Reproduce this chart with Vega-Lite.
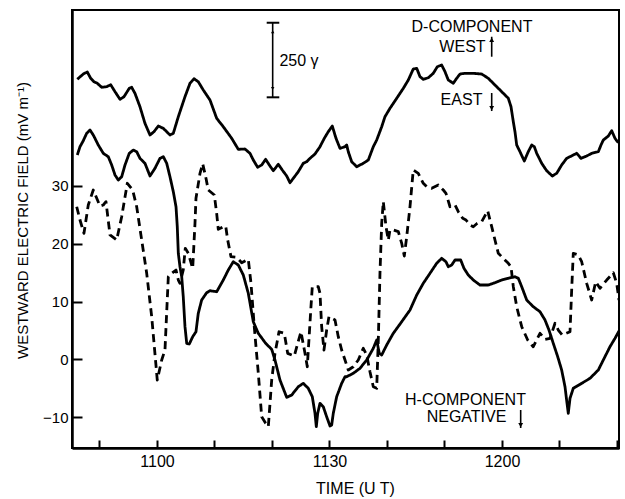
{
  "$schema": "https://vega.github.io/schema/vega-lite/v6.json",
  "width": 547,
  "height": 438,
  "autosize": "none",
  "padding": {"left": 72, "top": 10, "right": 6, "bottom": 51},
  "background": "white",
  "config": {
    "font": "Liberation Sans",
    "view": {"stroke": "black", "strokeWidth": 2},
    "axis": {
      "domainColor": "black", "domainWidth": 2.5, "tickColor": "black", "tickWidth": 2,
      "labelColor": "black", "labelFontSize": 15, "labelFont": "Liberation Sans",
      "titleColor": "black", "titleFontSize": 15, "titleFont": "Liberation Sans", "titleFontWeight": "normal",
      "grid": false
    }
  },
  "datasets": {
    "curves": [
      {"s":"D","t":46.14,"v":48.38},{"s":"D","t":47.18,"v":49.29},{"s":"D","t":47.88,"v":49.64},{"s":"D","t":48.47,"v":48.55},{"s":"D","t":49.04,"v":47.96},{"s":"D","t":49.62,"v":47.69},{"s":"D","t":50.38,"v":47.0},{"s":"D","t":51.25,"v":47.1},{"s":"D","t":51.95,"v":47.44},{"s":"D","t":52.7,"v":46.24},{"s":"D","t":53.57,"v":44.92},{"s":"D","t":54.26,"v":45.37},{"s":"D","t":55.18,"v":46.82},{"s":"D","t":55.6,"v":47.0},{"s":"D","t":56.17,"v":45.96},{"s":"D","t":57.04,"v":43.64},{"s":"D","t":57.91,"v":40.78},{"s":"D","t":58.78,"v":38.76},{"s":"D","t":59.48,"v":39.33},{"s":"D","t":60.23,"v":40.31},{"s":"D","t":61.1,"v":39.91},{"s":"D","t":62.26,"v":38.76},{"s":"D","t":62.84,"v":39.05},{"s":"D","t":63.71,"v":41.92},{"s":"D","t":64.87,"v":45.37},{"s":"D","t":65.74,"v":47.69},{"s":"D","t":66.44,"v":48.48},{"s":"D","t":67.18,"v":47.96},{"s":"D","t":68.05,"v":46.53},{"s":"D","t":69.22,"v":44.8},{"s":"D","t":70.38,"v":41.64},{"s":"D","t":71.53,"v":40.19},{"s":"D","t":72.99,"v":38.19},{"s":"D","t":74.14,"v":36.29},{"s":"D","t":75.3,"v":36.34},{"s":"D","t":76.17,"v":35.6},{"s":"D","t":76.75,"v":34.44},{"s":"D","t":77.51,"v":33.18},{"s":"D","t":78.21,"v":33.58},{"s":"D","t":78.9,"v":34.56},{"s":"D","t":79.65,"v":33.4},{"s":"D","t":80.23,"v":32.59},{"s":"D","t":81.1,"v":33.7},{"s":"D","t":81.79,"v":32.71},{"s":"D","t":82.56,"v":31.68},{"s":"D","t":83.13,"v":30.52},{"s":"D","t":83.71,"v":31.28},{"s":"D","t":84.57,"v":32.42},{"s":"D","t":85.44,"v":33.87},{"s":"D","t":86.04,"v":34.15},{"s":"D","t":86.61,"v":34.73},{"s":"D","t":87.48,"v":35.48},{"s":"D","t":88.35,"v":36.74},{"s":"D","t":89.1,"v":38.19},{"s":"D","t":89.79,"v":39.33},{"s":"D","t":90.49,"v":40.31},{"s":"D","t":91.13,"v":38.19},{"s":"D","t":91.83,"v":36.46},{"s":"D","t":92.7,"v":36.74},{"s":"D","t":92.99,"v":37.03},{"s":"D","t":93.27,"v":35.87},{"s":"D","t":93.86,"v":34.15},{"s":"D","t":94.73,"v":33.28},{"s":"D","t":95.88,"v":33.87},{"s":"D","t":96.75,"v":34.44},{"s":"D","t":97.62,"v":36.74},{"s":"D","t":98.21,"v":37.89},{"s":"D","t":99.08,"v":40.19},{"s":"D","t":99.65,"v":41.92},{"s":"D","t":100.52,"v":43.37},{"s":"D","t":101.69,"v":45.1},{"s":"D","t":102.84,"v":46.82},{"s":"D","t":103.71,"v":48.26},{"s":"D","t":104.57,"v":50.16},{"s":"D","t":105.17,"v":50.28},{"s":"D","t":105.74,"v":48.83},{"s":"D","t":106.31,"v":48.38},{"s":"D","t":107.18,"v":48.65},{"s":"D","t":108.05,"v":49.41},{"s":"D","t":108.75,"v":50.55},{"s":"D","t":109.51,"v":50.85},{"s":"D","t":110.09,"v":49.69},{"s":"D","t":110.66,"v":48.26},{"s":"D","t":111.53,"v":47.69},{"s":"D","t":112.12,"v":48.55},{"s":"D","t":112.7,"v":49.29},{"s":"D","t":113.57,"v":49.41},{"s":"D","t":115.01,"v":49.41},{"s":"D","t":116.47,"v":49.29},{"s":"D","t":117.62,"v":48.55},{"s":"D","t":118.78,"v":47.39},{"s":"D","t":119.95,"v":46.24},{"s":"D","t":121.1,"v":45.1},{"s":"D","t":121.57,"v":43.64},{"s":"D","t":121.97,"v":41.05},{"s":"D","t":122.26,"v":39.33},{"s":"D","t":122.56,"v":37.03},{"s":"D","t":123.13,"v":35.87},{"s":"D","t":123.88,"v":34.27},{"s":"D","t":124.57,"v":35.87},{"s":"D","t":125.17,"v":37.03},{"s":"D","t":125.62,"v":36.74},{"s":"D","t":126.04,"v":35.6},{"s":"D","t":126.91,"v":33.87},{"s":"D","t":127.77,"v":32.59},{"s":"D","t":128.75,"v":31.68},{"s":"D","t":129.51,"v":32.14},{"s":"D","t":130.38,"v":33.58},{"s":"D","t":131.25,"v":34.73},{"s":"D","t":132.4,"v":35.3},{"s":"D","t":132.99,"v":35.6},{"s":"D","t":133.74,"v":34.73},{"s":"D","t":134.73,"v":35.13},{"s":"D","t":135.6,"v":35.6},{"s":"D","t":136.75,"v":35.87},{"s":"D","t":137.22,"v":37.03},{"s":"D","t":137.62,"v":37.89},{"s":"D","t":138.49,"v":38.58},{"s":"D","t":139.08,"v":39.5},{"s":"D","t":139.65,"v":38.19},{"s":"D","t":140.23,"v":37.43},

      {"s":"H","t":46.14,"v":35.3},{"s":"H","t":46.61,"v":36.74},{"s":"H","t":47.18,"v":37.77},{"s":"H","t":47.77,"v":39.05},{"s":"H","t":48.35,"v":39.62},{"s":"H","t":48.92,"v":38.76},{"s":"H","t":49.79,"v":37.03},{"s":"H","t":50.66,"v":35.6},{"s":"H","t":51.53,"v":35.01},{"s":"H","t":52.12,"v":33.58},{"s":"H","t":52.7,"v":31.85},{"s":"H","t":53.27,"v":30.98},{"s":"H","t":53.86,"v":31.55},{"s":"H","t":54.44,"v":33.58},{"s":"H","t":55.18,"v":35.6},{"s":"H","t":55.88,"v":36.16},{"s":"H","t":56.47,"v":35.87},{"s":"H","t":57.04,"v":34.73},{"s":"H","t":57.91,"v":33.87},{"s":"H","t":58.78,"v":31.68},{"s":"H","t":59.65,"v":33.01},{"s":"H","t":60.52,"v":34.73},{"s":"H","t":61.1,"v":35.01},{"s":"H","t":61.69,"v":33.87},{"s":"H","t":62.26,"v":31.55},{"s":"H","t":62.84,"v":28.96},{"s":"H","t":63.31,"v":26.37},{"s":"H","t":63.53,"v":22.92},{"s":"H","t":63.71,"v":18.33},{"s":"H","t":64.0,"v":16.01},{"s":"H","t":64.3,"v":14.28},{"s":"H","t":64.57,"v":10.83},{"s":"H","t":64.87,"v":5.65},{"s":"H","t":65.17,"v":2.78},{"s":"H","t":65.62,"v":2.66},{"s":"H","t":66.21,"v":3.92},{"s":"H","t":66.78,"v":4.78},{"s":"H","t":67.18,"v":7.96},{"s":"H","t":67.77,"v":10.26},{"s":"H","t":68.64,"v":11.52},{"s":"H","t":69.22,"v":11.87},{"s":"H","t":70.38,"v":11.69},{"s":"H","t":71.53,"v":13.71},{"s":"H","t":72.4,"v":15.44},{"s":"H","t":73.27,"v":16.87},{"s":"H","t":74.14,"v":16.3},{"s":"H","t":75.01,"v":14.58},{"s":"H","t":75.88,"v":11.42},{"s":"H","t":76.75,"v":6.51},{"s":"H","t":77.62,"v":4.51},{"s":"H","t":78.9,"v":2.78},{"s":"H","t":79.95,"v":1.74},{"s":"H","t":80.52,"v":-0.1},{"s":"H","t":81.39,"v":-3.56},{"s":"H","t":82.56,"v":-6.55},{"s":"H","t":83.43,"v":-6.15},{"s":"H","t":84.57,"v":-4.72},{"s":"H","t":85.44,"v":-4.13},{"s":"H","t":86.31,"v":-4.99},{"s":"H","t":87.01,"v":-6.44},{"s":"H","t":87.48,"v":-9.31},{"s":"H","t":87.71,"v":-11.62},{"s":"H","t":87.95,"v":-9.31},{"s":"H","t":88.35,"v":-7.58},{"s":"H","t":88.92,"v":-8.17},{"s":"H","t":89.51,"v":-9.9},{"s":"H","t":90.09,"v":-11.5},{"s":"H","t":90.38,"v":-11.33},{"s":"H","t":90.66,"v":-9.31},{"s":"H","t":91.25,"v":-6.44},{"s":"H","t":92.12,"v":-4.13},{"s":"H","t":92.7,"v":-2.99},{"s":"H","t":92.99,"v":-2.99},{"s":"H","t":94.14,"v":-2.4},{"s":"H","t":95.3,"v":-1.54},{"s":"H","t":96.47,"v":-0.1},{"s":"H","t":97.62,"v":1.92},{"s":"H","t":98.21,"v":3.35},{"s":"H","t":98.66,"v":1.05},{"s":"H","t":99.08,"v":0.76},{"s":"H","t":99.95,"v":2.49},{"s":"H","t":101.1,"v":4.51},{"s":"H","t":102.56,"v":6.51},{"s":"H","t":104.0,"v":8.53},{"s":"H","t":105.17,"v":11.12},{"s":"H","t":106.31,"v":13.14},{"s":"H","t":107.48,"v":14.87},{"s":"H","t":108.64,"v":16.6},{"s":"H","t":109.51,"v":17.46},{"s":"H","t":110.26,"v":16.87},{"s":"H","t":110.66,"v":16.01},{"s":"H","t":111.25,"v":16.3},{"s":"H","t":111.83,"v":17.17},{"s":"H","t":112.82,"v":17.17},{"s":"H","t":113.39,"v":15.73},{"s":"H","t":114.14,"v":14.58},{"s":"H","t":115.01,"v":13.71},{"s":"H","t":116.17,"v":12.85},{"s":"H","t":117.62,"v":12.85},{"s":"H","t":118.78,"v":13.25},{"s":"H","t":119.95,"v":13.71},{"s":"H","t":121.1,"v":14.01},{"s":"H","t":122.26,"v":14.28},{"s":"H","t":122.84,"v":14.01},{"s":"H","t":123.43,"v":12.56},{"s":"H","t":124.3,"v":10.26},{"s":"H","t":125.44,"v":9.1},{"s":"H","t":126.61,"v":8.24},{"s":"H","t":127.48,"v":6.81},{"s":"H","t":128.17,"v":5.08},{"s":"H","t":128.92,"v":2.78},{"s":"H","t":129.69,"v":0.47},{"s":"H","t":130.38,"v":-1.83},{"s":"H","t":130.96,"v":-4.72},{"s":"H","t":131.31,"v":-7.58},{"s":"H","t":131.53,"v":-9.31},{"s":"H","t":131.83,"v":-6.72},{"s":"H","t":132.4,"v":-4.99},{"s":"H","t":133.86,"v":-4.13},{"s":"H","t":135.3,"v":-3.27},{"s":"H","t":136.75,"v":-1.83},{"s":"H","t":137.91,"v":0.47},{"s":"H","t":138.78,"v":2.19},{"s":"H","t":139.65,"v":3.64},{"s":"H","t":140.35,"v":4.91},

      {"s":"E","t":46.04,"v":26.37},{"s":"E","t":46.61,"v":24.08},{"s":"E","t":47.3,"v":21.78},{"s":"E","t":48.05,"v":26.67},{"s":"E","t":48.92,"v":29.26},{"s":"E","t":50.09,"v":26.49},{"s":"E","t":50.66,"v":26.67},{"s":"E","t":51.13,"v":27.24},{"s":"E","t":51.83,"v":21.49},{"s":"E","t":52.99,"v":20.62},{"s":"E","t":53.86,"v":24.65},{"s":"E","t":54.84,"v":30.42},{"s":"E","t":55.77,"v":29.26},{"s":"E","t":56.47,"v":26.37},{"s":"E","t":57.34,"v":20.62},{"s":"E","t":58.21,"v":14.87},{"s":"E","t":59.08,"v":7.38},{"s":"E","t":60.05,"v":-3.56},{"s":"E","t":60.82,"v":-0.1},{"s":"E","t":61.39,"v":1.62},{"s":"E","t":61.97,"v":14.28},{"s":"E","t":62.56,"v":14.87},{"s":"E","t":63.31,"v":15.44},{"s":"E","t":63.71,"v":13.71},{"s":"E","t":64.0,"v":13.14},{"s":"E","t":64.57,"v":15.44},{"s":"E","t":64.92,"v":19.19},{"s":"E","t":65.44,"v":18.33},{"s":"E","t":66.21,"v":15.73},{"s":"E","t":66.61,"v":23.51},{"s":"E","t":66.78,"v":27.82},{"s":"E","t":67.48,"v":32.14},{"s":"E","t":67.95,"v":33.8},{"s":"E","t":68.52,"v":31.28},{"s":"E","t":68.92,"v":29.26},{"s":"E","t":69.97,"v":28.39},{"s":"E","t":70.38,"v":25.23},{"s":"E","t":70.66,"v":22.47},{"s":"E","t":71.53,"v":22.92},{"s":"E","t":71.95,"v":23.04},{"s":"E","t":72.3,"v":20.62},{"s":"E","t":72.87,"v":17.74},{"s":"E","t":73.86,"v":17.63},{"s":"E","t":74.73,"v":16.7},{"s":"E","t":75.88,"v":17.29},{"s":"E","t":76.35,"v":13.14},{"s":"E","t":76.92,"v":5.65},{"s":"E","t":77.62,"v":-2.4},{"s":"E","t":78.21,"v":-9.9},{"s":"E","t":78.9,"v":-11.04},{"s":"E","t":79.36,"v":-11.62},{"s":"E","t":79.95,"v":-3.56},{"s":"E","t":80.52,"v":1.05},{"s":"E","t":81.22,"v":4.78},{"s":"E","t":82.14,"v":4.51},{"s":"E","t":82.73,"v":1.05},{"s":"E","t":83.88,"v":0.59},{"s":"E","t":84.47,"v":2.78},{"s":"E","t":85.04,"v":4.78},{"s":"E","t":85.74,"v":1.05},{"s":"E","t":86.14,"v":-1.26},{"s":"E","t":86.78,"v":9.1},{"s":"E","t":87.01,"v":12.56},{"s":"E","t":88.05,"v":12.56},{"s":"E","t":88.35,"v":11.42},{"s":"E","t":88.64,"v":5.65},{"s":"E","t":89.04,"v":1.62},{"s":"E","t":89.51,"v":5.08},{"s":"E","t":89.91,"v":7.38},{"s":"E","t":90.96,"v":6.81},{"s":"E","t":91.53,"v":3.92},{"s":"E","t":92.12,"v":1.62},{"s":"E","t":92.7,"v":-0.1},{"s":"E","t":93.27,"v":-1.83},{"s":"E","t":94.14,"v":-1.26},{"s":"E","t":95.01,"v":-0.1},{"s":"E","t":95.88,"v":1.92},{"s":"E","t":96.47,"v":0.76},{"s":"E","t":97.04,"v":-2.12},{"s":"E","t":97.62,"v":-4.72},{"s":"E","t":98.21,"v":-4.99},{"s":"E","t":98.49,"v":3.35},{"s":"E","t":98.78,"v":14.87},{"s":"E","t":99.08,"v":23.51},{"s":"E","t":99.36,"v":27.24},{"s":"E","t":99.83,"v":22.92},{"s":"E","t":100.23,"v":20.62},{"s":"E","t":100.52,"v":22.35},{"s":"E","t":101.1,"v":22.35},{"s":"E","t":101.97,"v":22.06},{"s":"E","t":102.56,"v":20.05},{"s":"E","t":103.01,"v":17.86},{"s":"E","t":103.43,"v":21.19},{"s":"E","t":104.0,"v":26.37},{"s":"E","t":104.57,"v":32.71},{"s":"E","t":105.44,"v":32.14},{"s":"E","t":106.31,"v":30.42},{"s":"E","t":106.91,"v":29.83},{"s":"E","t":107.77,"v":29.55},{"s":"E","t":108.92,"v":30.12},{"s":"E","t":109.79,"v":29.26},{"s":"E","t":110.26,"v":28.69},{"s":"E","t":110.96,"v":26.37},{"s":"E","t":111.83,"v":26.67},{"s":"E","t":112.4,"v":25.51},{"s":"E","t":113.17,"v":24.37},{"s":"E","t":113.74,"v":24.08},{"s":"E","t":114.43,"v":23.21},{"s":"E","t":115.01,"v":22.92},{"s":"E","t":115.71,"v":23.51},{"s":"E","t":116.47,"v":23.78},{"s":"E","t":117.51,"v":25.68},{"s":"E","t":118.21,"v":22.92},{"s":"E","t":118.78,"v":20.62},{"s":"E","t":119.36,"v":18.33},{"s":"E","t":120.23,"v":17.46},{"s":"E","t":121.1,"v":16.6},{"s":"E","t":121.57,"v":16.01},{"s":"E","t":121.97,"v":12.56},{"s":"E","t":122.56,"v":9.1},{"s":"E","t":123.43,"v":5.65},{"s":"E","t":124.47,"v":3.35},{"s":"E","t":125.44,"v":2.19},{"s":"E","t":126.61,"v":4.51},{"s":"E","t":127.48,"v":3.47},{"s":"E","t":128.35,"v":3.64},{"s":"E","t":129.22,"v":6.24},{"s":"E","t":129.79,"v":5.08},{"s":"E","t":130.49,"v":4.21},{"s":"E","t":131.83,"v":4.78},{"s":"E","t":132.12,"v":11.99},{"s":"E","t":132.4,"v":18.33},{"s":"E","t":133.27,"v":18.03},{"s":"E","t":133.86,"v":16.87},{"s":"E","t":134.73,"v":13.14},{"s":"E","t":135.6,"v":10.26},{"s":"E","t":136.3,"v":13.42},{"s":"E","t":137.04,"v":12.28},{"s":"E","t":138.21,"v":13.71},{"s":"E","t":139.36,"v":14.97},{"s":"E","t":139.95,"v":13.14},{"s":"E","t":140.35,"v":10.26}
    ],
    "notes": [
      {"label": "D-COMPONENT", "t": 114.78, "v": 57.41},
      {"label": "WEST", "t": 113.13, "v": 54.04},
      {"label": "EAST", "t": 112.96, "v": 44.8},
      {"label": "250 γ", "t": 84.7, "v": 51.62},
      {"label": "H-COMPONENT", "t": 113.65, "v": -7.01},
      {"label": "NEGATIVE", "t": 113.83, "v": -9.86}
    ],
    "stems": [
      {"t": 80.12, "v": 45.27, "v2": 58.15},
      {"t": 118.21, "v": 52.28, "v2": 55.73},
      {"t": 118.21, "v": 42.9, "v2": 46.01},
      {"t": 123.25, "v": -11.85, "v2": -8.74}
    ],
    "caps": [
      {"t": 79.08, "t2": 81.27, "v": 58.15},
      {"t": 79.08, "t2": 81.27, "v": 45.27}
    ],
    "bigHeads": [
      {"t": 118.21, "v": 55.2, "dir": "up"},
      {"t": 118.21, "v": 43.4, "dir": "down"},
      {"t": 123.25, "v": -11.35, "dir": "down"}
    ],
    "smallHeads": [
      {"t": 80.12, "v": 56.6, "dir": "up"},
      {"t": 80.12, "v": 46.8, "dir": "down"}
    ]
  },
  "layer": [
    {
      "data": {"name": "curves"},
      "mark": {"type": "line", "clip": true, "color": "black", "strokeJoin": "round", "strokeCap": "butt"},
      "encoding": {
        "x": {
          "field": "t", "type": "quantitative",
          "scale": {"domain": [45.22, 140.35], "nice": false, "zero": false},
          "axis": {
            "title": "TIME (U T)", "titleX": 283, "titleY": 40, "titleBaseline": "middle", "titleFontSize": 16,
            "values": [50, 60, 70, 80, 90, 100, 110, 120, 130, 140],
            "labelExpr": "datum.value == 60 ? '1100' : datum.value == 90 ? '1130' : datum.value == 120 ? '1200' : ''",
            "tickSize": -8, "labelPadding": 13, "labelFontSize": 16
          }
        },
        "y": {
          "field": "v", "type": "quantitative",
          "scale": {"domain": [-15.3, 60.35], "nice": false, "zero": false},
          "axis": {
            "title": "WESTWARD ELECTRIC FIELD (mV m⁻¹)", "titleX": -50, "titleY": 210,
            "titleAngle": -90, "titleAlign": "center", "titleBaseline": "middle",
            "values": [-10, 0, 10, 20, 30], "tickSize": -10, "labelPadding": 14
          }
        },
        "detail": {"field": "s"},
        "strokeDash": {"field": "s", "type": "nominal", "scale": {"domain": ["D", "H", "E"], "range": [[1, 0], [1, 0], [8, 5]]}, "legend": null},
        "strokeWidth": {"field": "s", "type": "nominal", "scale": {"domain": ["D", "H", "E"], "range": [2.8, 2.8, 1]}, "legend": null}
      }
    },
    {
      "data": {"name": "notes"},
      "mark": {"type": "text", "fontSize": 16, "align": "center", "baseline": "middle", "color": "black"},
      "encoding": {
        "x": {"field": "t", "type": "quantitative"},
        "y": {"field": "v", "type": "quantitative"},
        "text": {"field": "label"}
      }
    },
    {
      "data": {"name": "stems"},
      "mark": {"type": "rule", "color": "black", "strokeWidth": 1.6},
      "encoding": {
        "x": {"field": "t", "type": "quantitative"},
        "y": {"field": "v", "type": "quantitative"},
        "y2": {"field": "v2"}
      }
    },
    {
      "data": {"name": "caps"},
      "mark": {"type": "rule", "color": "black", "strokeWidth": 2},
      "encoding": {
        "x": {"field": "t", "type": "quantitative"},
        "x2": {"field": "t2"},
        "y": {"field": "v", "type": "quantitative"}
      }
    },
    {
      "data": {"name": "bigHeads"},
      "mark": {"type": "point", "filled": true, "color": "black", "opacity": 1, "size": 24},
      "encoding": {
        "x": {"field": "t", "type": "quantitative"},
        "y": {"field": "v", "type": "quantitative"},
        "shape": {"field": "dir", "type": "nominal", "scale": {"domain": ["up", "down"], "range": ["triangle-up", "triangle-down"]}, "legend": null}
      }
    },
    {
      "data": {"name": "smallHeads"},
      "mark": {"type": "point", "filled": true, "color": "black", "opacity": 1, "size": 12},
      "encoding": {
        "x": {"field": "t", "type": "quantitative"},
        "y": {"field": "v", "type": "quantitative"},
        "shape": {"field": "dir", "type": "nominal", "scale": {"domain": ["up", "down"], "range": ["triangle-up", "triangle-down"]}, "legend": null}
      }
    }
  ]
}
